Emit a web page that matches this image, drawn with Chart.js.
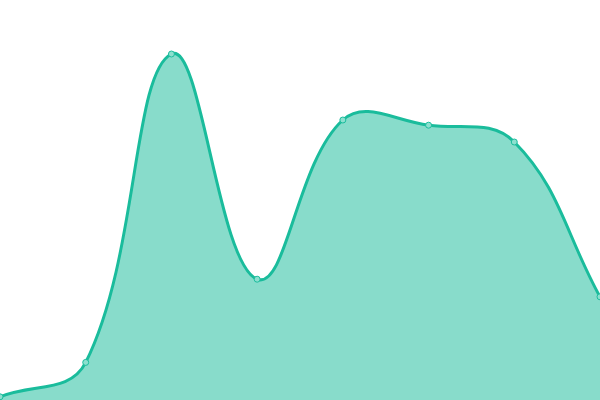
<!DOCTYPE html>
<html>
<head>
<meta charset="utf-8">
<script src="https://cdn.jsdelivr.net/npm/chart.js@4"></script>
<style>
  html, body { margin: 0; padding: 0; background: #fff; }
  #wrap { width: 600px; height: 400px; }
</style>
</head>
<body>
<div id="wrap"><canvas id="areaChart"></canvas></div>
<script>
const labels = ['1', '2', '3', '4', '5', '6', '7', '8'];
const values = [0.8, 9.4, 86.5, 30.2, 70, 68.7, 64.5, 25.8];
const yMin = 0;
const yMax = 100;

new Chart(document.getElementById('areaChart'), {
  type: 'line',
  data: {
    labels: labels,
    datasets: [{
      data: values,
      borderColor: 'rgb(26, 188, 156)',
      backgroundColor: 'rgba(26, 188, 156, 0.52)',
      borderWidth: 3,
      fill: 'origin',
      tension: 0.4,
      pointRadius: 3,
      pointBorderWidth: 1,
      pointBackgroundColor: 'rgb(140, 224, 207)',
      pointBorderColor: 'rgb(26, 188, 156)'
    }]
  },
  options: {
    responsive: true,
    maintainAspectRatio: false,
    animation: false,
    layout: { padding: 0, autoPadding: false },
    plugins: { legend: { display: false }, tooltip: { enabled: false } },
    scales: {
      x: { display: false },
      y: { display: false, min: yMin, max: yMax }
    }
  }
});
</script>
</body>
</html>
